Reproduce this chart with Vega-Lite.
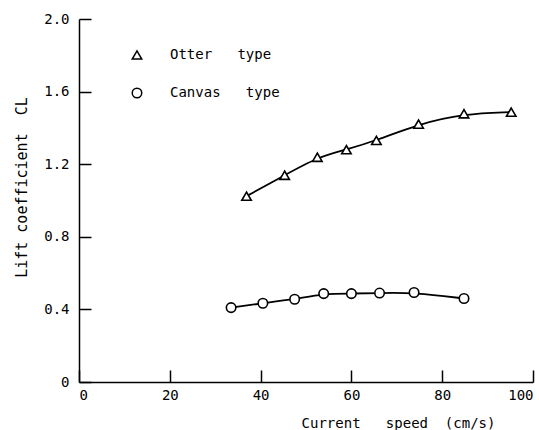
{
  "$schema": "https://vega.github.io/schema/vega-lite/v6.json",
  "width": 454,
  "height": 363,
  "autosize": {"type": "none"},
  "padding": {"left": 79, "top": 19, "right": 6, "bottom": 48},
  "background": "white",
  "config": {
    "view": {"stroke": null},
    "font": "DejaVu Sans Mono",
    "axis": {
      "grid": false,
      "domainColor": "black",
      "domainWidth": 1.5,
      "tickColor": "black",
      "tickWidth": 1.5,
      "labelColor": "black",
      "titleColor": "black",
      "labelFont": "DejaVu Sans Mono",
      "titleFont": "DejaVu Sans Mono",
      "labelFontSize": 14,
      "titleFontSize": 14,
      "titleFontWeight": "normal"
    }
  },
  "data": {
    "values": [
      {"type": "Otter type", "speed": 36.9, "cl": 1.024},
      {"type": "Otter type", "speed": 45.3, "cl": 1.139},
      {"type": "Otter type", "speed": 52.5, "cl": 1.238},
      {"type": "Otter type", "speed": 58.9, "cl": 1.28},
      {"type": "Otter type", "speed": 65.5, "cl": 1.331},
      {"type": "Otter type", "speed": 74.8, "cl": 1.421},
      {"type": "Otter type", "speed": 84.8, "cl": 1.478},
      {"type": "Otter type", "speed": 95.2, "cl": 1.487},
      {"type": "Canvas type", "speed": 33.5, "cl": 0.41},
      {"type": "Canvas type", "speed": 40.5, "cl": 0.434},
      {"type": "Canvas type", "speed": 47.5, "cl": 0.456},
      {"type": "Canvas type", "speed": 53.9, "cl": 0.487},
      {"type": "Canvas type", "speed": 60.0, "cl": 0.487},
      {"type": "Canvas type", "speed": 66.2, "cl": 0.49},
      {"type": "Canvas type", "speed": 73.8, "cl": 0.493},
      {"type": "Canvas type", "speed": 84.8, "cl": 0.46}
    ]
  },
  "encoding": {
    "x": {
      "field": "speed",
      "type": "quantitative",
      "scale": {"domain": [0, 100], "nice": false, "zero": false},
      "axis": {
        "values": [0, 20, 40, 60, 80, 100],
        "title": "Current\u00a0\u00a0\u00a0speed\u00a0\u00a0(cm/s)",
        "tickSize": -12,
        "labelPadding": 18,
        "labelBaseline": "top",
        "titleX": 319,
        "titleY": 45,
        "titleAlign": "center",
        "titleBaseline": "alphabetic"
      }
    },
    "y": {
      "field": "cl",
      "type": "quantitative",
      "scale": {"domain": [0, 2], "nice": false},
      "axis": {
        "values": [0, 0.4, 0.8, 1.2, 1.6, 2.0],
        "labelExpr": "datum.value == 0 ? '0' : format(datum.value, '.1f')",
        "title": "Lift\u00a0coefficient\u00a0\u00a0CL",
        "tickSize": -12,
        "labelPadding": 22,
        "titleFontSize": 15,
        "titleX": -58,
        "titleY": 168,
        "titleAlign": "center",
        "titleBaseline": "middle"
      }
    }
  },
  "layer": [
    {
      "mark": {"type": "line", "interpolate": "basis", "color": "black", "strokeWidth": 1.8},
      "encoding": {"detail": {"field": "type", "type": "nominal"}}
    },
    {
      "mark": {"type": "point", "filled": true, "fill": "white", "stroke": "black", "strokeWidth": 1.6, "opacity": 1, "size": 90},
      "encoding": {
        "shape": {
          "field": "type",
          "type": "nominal",
          "scale": {"domain": ["Otter type", "Canvas type"], "range": ["triangle-up", "circle"]},
          "legend": {
            "title": null,
            "orient": "none",
            "legendX": 51,
            "legendY": 29,
            "padding": 0,
            "rowPadding": 22,
            "labelOffset": 26,
            "labelFontSize": 14,
            "labelFont": "DejaVu Sans Mono",
            "labelColor": "black",
            "symbolSize": 90,
            "labelExpr": "replace(datum.label, ' ', '\u00a0\u00a0\u00a0')",
            "encode": {
              "symbols": {
                "update": {
                  "fill": {"value": "white"},
                  "stroke": {"value": "black"},
                  "strokeWidth": {"value": 1.6},
                  "opacity": {"value": 1}
                }
              }
            }
          }
        }
      }
    }
  ]
}
